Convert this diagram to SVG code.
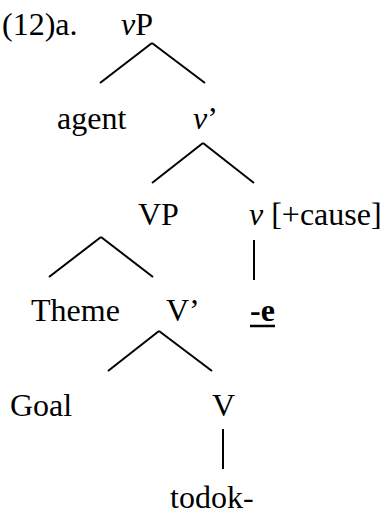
<svg xmlns="http://www.w3.org/2000/svg" width="383" height="516" viewBox="0 0 383 516">
<style>
text{font-family:"Liberation Serif","Times New Roman",serif;font-size:32px;fill:#000}
.i{font-style:italic}
.b{font-weight:bold}
line{stroke:#000;stroke-width:2;stroke-linecap:butt}
</style>
<rect width="383" height="516" fill="#fff"/>
<g id="label"><text x="2" y="35">(12)a.</text></g>
<g id="vP"><text x="121" y="35"><tspan class="i">v</tspan>P</text></g>
<g id="agent"><text x="57" y="129">agent</text></g>
<g id="vbar"><text x="193" y="129"><tspan class="i">v</tspan>’</text></g>
<g id="VP"><text x="138" y="225">VP</text></g>
<g id="vcause"><text x="249" y="225"><tspan class="i">v</tspan> [+cause]</text></g>
<g id="Theme"><text x="31" y="321">Theme</text></g>
<g id="Vbar"><text x="166" y="321">V’</text></g>
<g id="e"><text x="250" y="321" class="b">-e</text><line x1="250" y1="326" x2="275" y2="326" style="stroke-width:2.5"/></g>
<g id="Goal"><text x="10" y="416">Goal</text></g>
<g id="V"><text x="212" y="416">V</text></g>
<g id="todok"><text x="170" y="508">todok-</text></g>
<g id="connectors">
<line x1="152" y1="43" x2="100" y2="83"/>
<line x1="152" y1="43" x2="205" y2="83"/>
<line x1="203" y1="143" x2="152" y2="183"/>
<line x1="203" y1="143" x2="254" y2="183"/>
<line x1="101" y1="237" x2="49" y2="277"/>
<line x1="101" y1="237" x2="153" y2="277"/>
<line x1="254" y1="240" x2="254" y2="280"/>
<line x1="159" y1="331" x2="108" y2="371"/>
<line x1="159" y1="331" x2="212" y2="371"/>
<line x1="223" y1="429" x2="223" y2="469"/>
</g>
</svg>
